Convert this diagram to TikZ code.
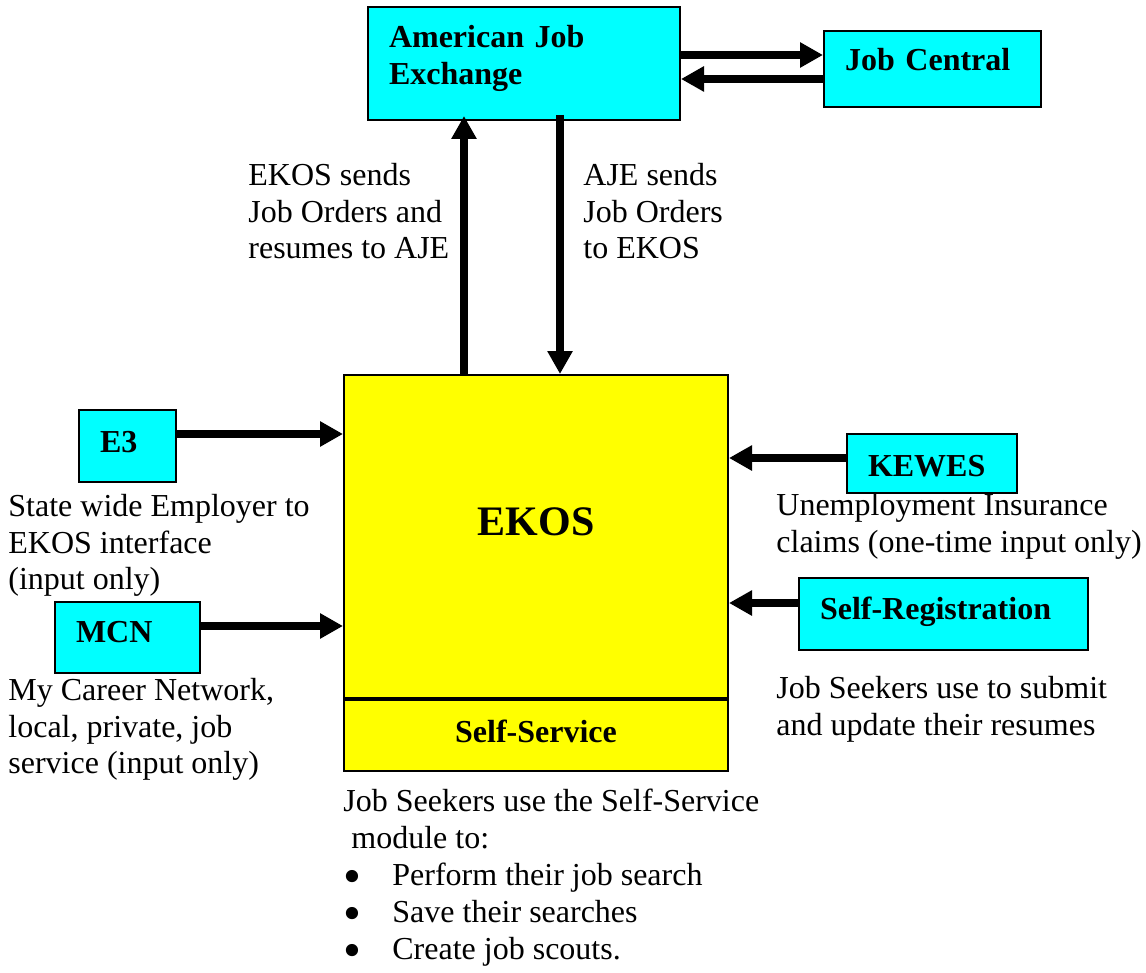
\documentclass[tikz,border=0pt]{standalone}
\usepackage{fontspec}
\usepackage{graphicx}
\setmainfont{Liberation Serif}
\usetikzlibrary{
    arrows.meta,
    positioning,
    calc
}
\definecolor{boxcyan}{HTML}{00FFFF}
\definecolor{ekosyellow}{HTML}{FFFF00}
\newcommand{\ssbullet}{\makebox[24.5pt][l]{\smash{\raisebox{-3.7pt}{\scalebox{1.6}{\textbullet}}}}}

\begin{document}
\begin{tikzpicture}[
    x=0.5pt, y=-0.5pt,
    feedbox/.style={
      draw,
      line width=1pt,
      fill=boxcyan,
      anchor=north west,
      align=left,
      inner xsep=10.5pt,
      inner ysep=0pt,
      text height=11pt,
      font=\fontsize{16pt}{18.25pt}\selectfont\bfseries
    },
    ekosbox/.style={
      draw,
      line width=1pt,
      fill=ekosyellow,
      anchor=north west,
      inner sep=0pt,
      minimum width=192pt
    },
    note/.style={
      anchor=north west,
      align=left,
      inner sep=0pt,
      font=\fontsize{16pt}{18.25pt}\selectfont
    },
    flow/.style={
      line width=4pt,
      -{Triangle[length=11.5pt,width=12pt]}
    }
  ]

  \useasboundingbox (0,0) rectangle (1146,973);

  % top row {{{
  \node[
    feedbox,
    text width=135pt,
    minimum height=56.5pt,
    text depth=26.5pt
  ] (aje) at (367,6) {American Job\\Exchange};
  \node[
    feedbox,
    text width=87.5pt,
    minimum height=38pt,
    text depth=9pt
  ] (jobcentral) at (823,30) {Job Central};
  % }}}

  % EKOS {{{
  \node[
    ekosbox,
    minimum height=161.5pt,
    text height=14pt,
    text depth=15.5pt,
    font=\fontsize{21pt}{25pt}\selectfont\bfseries
  ] (ekos) at (343,374) {EKOS};
  \node[
    ekosbox,
    minimum height=35.5pt,
    text height=11pt,
    text depth=4.5pt,
    font=\fontsize{16pt}{18.25pt}\selectfont\bfseries
  ] (selfservice) at (ekos.south west) {Self-Service};
  % }}}

  % inputs {{{
  \node[
    feedbox,
    text width=27.5pt,
    minimum height=36pt,
    text depth=5pt
  ] (e3) at (78,409) {E3};
  \node[
    feedbox,
    text width=51.5pt,
    minimum height=35.5pt,
    text depth=6pt
  ] (mcn) at (54,601) {MCN};
  \node[
    feedbox,
    text width=64pt,
    minimum height=29.5pt,
    text height=14pt,
    text depth=1.5pt
  ] (kewes) at (846,433) {KEWES};
  \node[
    feedbox,
    text width=123.5pt,
    minimum height=36pt,
    text depth=6pt
  ] (selfreg) at (798,577) {Self-Registration};
  % }}}

  % arrows {{{
  \draw[flow] ([yshift=4.25pt]aje.east) -- ([yshift=4.25pt]aje.east -| jobcentral.west);
  \draw[flow] ([yshift=-7.75pt]aje.east -| jobcentral.west) -- ([yshift=-7.75pt]aje.east);
  \draw[flow] ([xshift=-36pt]ekos.north) -- ([xshift=-36pt,yshift=2.5pt]ekos.north |- aje.south);
  \draw[flow] ([xshift=12pt,yshift=3pt]ekos.north |- aje.south) -- ([xshift=12pt]ekos.north);
  \draw[flow] ([yshift=6pt]e3.east) -- ([yshift=6pt]e3.east -| ekos.west);
  \draw[flow] ([yshift=5.75pt]mcn.east) -- ([yshift=5.75pt]mcn.east -| ekos.west);
  \draw[flow] ([yshift=2.75pt]kewes.west) -- ([yshift=2.75pt]kewes.west -| ekos.east);
  \draw[flow] ([yshift=5.5pt]selfreg.west) -- ([yshift=5.5pt]selfreg.west -| ekos.east);
  % }}}

  % notes {{{
  \node[note] (sendsaje) at (248,163) {EKOS sends\\Job Orders and\\resumes to AJE};
  \node[note] (sendsekos) at (583,163) {AJE sends\\Job Orders\\to EKOS};
  \node[note] (e3note) at (8,494) {State wide Employer to\\EKOS interface\\(input only)};
  \node[note] (mcnnote) at (8,678) {My Career Network,\\local, private, job\\service (input only)};
  \node[note] (kewesnote) at (776,493) {Unemployment Insurance\\claims (one-time input only)};
  \node[note] (selfregnote) at (776,676) {Job Seekers use to submit\\and update their resumes};
  \node[
    note,
    font=\fontsize{16pt}{18.5pt}\selectfont
  ] (selfservicenote) at (343,789) {Job Seekers use the Self-Service\\
    \hspace*{4pt}module to:\\
    \ssbullet Perform their job search\\
    \ssbullet Save their searches\\
    \ssbullet Create job scouts.};
  % }}}

\end{tikzpicture}
\end{document}
